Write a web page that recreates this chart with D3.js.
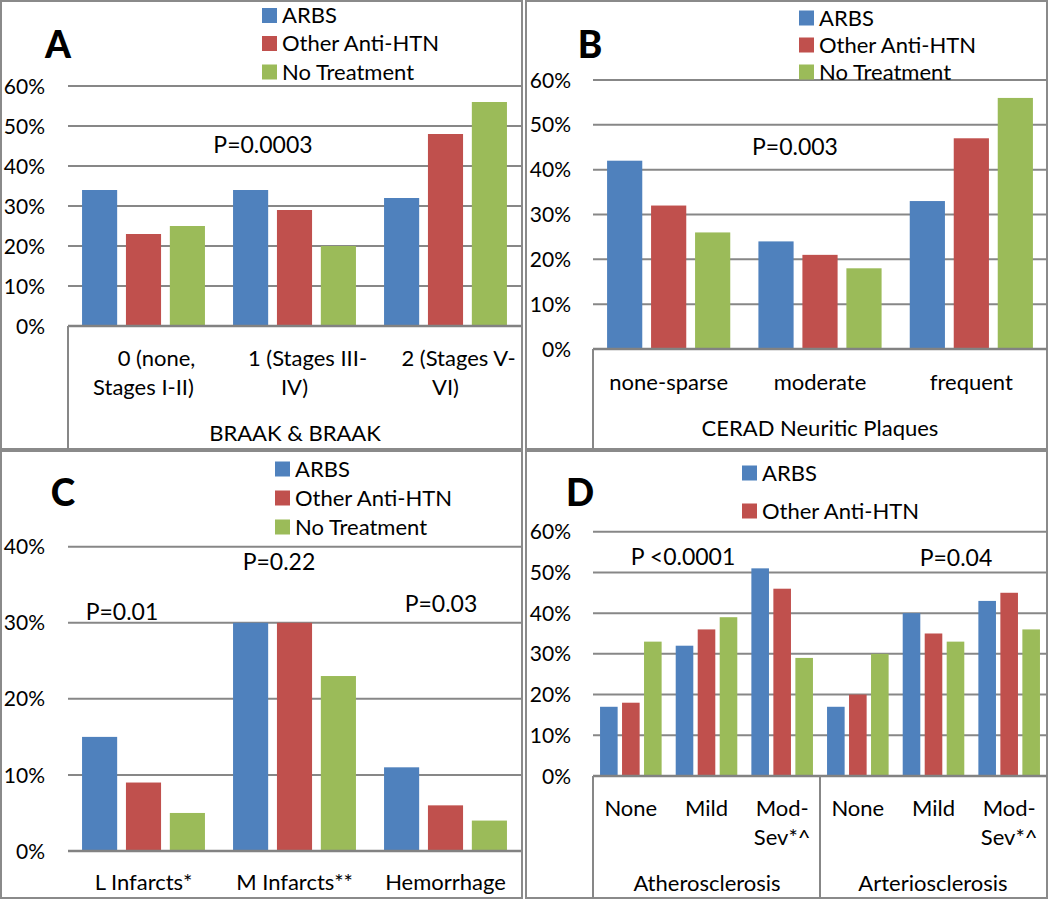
<!DOCTYPE html>
<html><head><meta charset="utf-8">
<script src="https://cdn.jsdelivr.net/npm/d3@7"></script>
<style>body{margin:0;background:#fff}svg{display:block}text{font-family:Lato,"Open Sans",sans-serif;fill:#000}</style>
</head><body>
<svg id="c" width="1050" height="900"></svg>
<script>
// ---------- data ----------
const seriesNames = ["ARBS", "Other Anti-HTN", "No Treatment"];
const seriesColors = ["#4F81BD", "#C0504D", "#9BBB59"];

const categoriesA = [["0 (none,", "Stages I-II)"], ["1 (Stages III-", "IV)"], ["2 (Stages V-", "VI)"]];
const arbsA  = [34, 34, 32];
const otherA = [23, 29, 48];
const noneA  = [25, 20, 56];

const categoriesB = [["none-sparse"], ["moderate"], ["frequent"]];
const arbsB  = [42, 24, 33];
const otherB = [32, 21, 47];
const noneB  = [26, 18, 56];

const categoriesC = [["L Infarcts*"], ["M Infarcts**"], ["Hemorrhage"]];
const arbsC  = [15, 30, 11];
const otherC = [9, 30, 6];
const noneC  = [5, 23, 4];

const categoriesD = [["None"], ["Mild"], ["Mod-", "Sev*^"], ["None"], ["Mild"], ["Mod-", "Sev*^"]];
const groupsD = ["Atherosclerosis", "Arteriosclerosis"];
const arbsD  = [17, 32, 51, 17, 40, 43];
const otherD = [18, 36, 46, 20, 35, 45];
const noneD  = [33, 39, 29, 30, 33, 36];

const ticks60 = [0, 10, 20, 30, 40, 50, 60];
const ticks40 = [0, 10, 20, 30, 40];

// ---------- drawing ----------
const svg = d3.select("#c");
const GRID = "#878787";
const FS = 22;

function frame(x0, y0, x1, y1) {
  svg.append("rect").attr("x", x0).attr("y", y0).attr("width", x1 - x0).attr("height", y1 - y0)
    .attr("fill", "none").attr("stroke", "#8a8a8a").attr("stroke-width", 2);
}

function panel(cfg) {
  const g = svg.append("g");
  const y = d3.scaleLinear().domain([0, cfg.max]).range([cfg.yZero, cfg.yTop]);
  const x = d3.scaleBand().domain(d3.range(cfg.cats.length)).range([cfg.left, cfg.right]);
  const xs = d3.scaleBand().domain(d3.range(3)).range([0, x.bandwidth()]).paddingInner(0.2).paddingOuter(0.32);

  // gridlines
  g.selectAll("line.grid").data(cfg.ticks.filter(t => t > 0)).join("line")
    .attr("x1", cfg.left).attr("x2", cfg.right)
    .attr("y1", d => y(d)).attr("y2", d => y(d))
    .attr("stroke", GRID).attr("stroke-width", 2);

  // y axis labels
  const ya = d3.axisLeft(y).tickValues(cfg.ticks).tickFormat(d => d + "%").tickSize(0).tickPadding(0);
  const yg = g.append("g").attr("transform", `translate(${cfg.labelX},0)`).call(ya);
  yg.select(".domain").remove();
  yg.selectAll("text").attr("font-size", 21).attr("font-family", "Lato").attr("fill", "#000").attr("dy", "0.34em");

  // bars
  cfg.values.forEach((vals, s) => {
    if (!vals) return;
    g.selectAll(null).data(vals).join("rect")
      .attr("x", (d, i) => x(i) + xs(s))
      .attr("width", xs.bandwidth())
      .attr("y", d => y(d))
      .attr("height", d => y(0) - y(d))
      .attr("fill", seriesColors[s]);
  });

  // axis line at zero
  g.append("line").attr("x1", cfg.left).attr("x2", cfg.right)
    .attr("y1", y(0)).attr("y2", y(0)).attr("stroke", "#828282").attr("stroke-width", 2.5);

  // category box lines
  (cfg.boxLines || []).forEach(i => {
    const xx = i === 0 ? cfg.left : x(i);
    g.append("line").attr("x1", xx).attr("x2", xx).attr("y1", y(0)).attr("y2", cfg.boxBottom)
      .attr("stroke", GRID).attr("stroke-width", 2);
  });

  // category labels
  cfg.cats.forEach((lines, i) => {
    lines.forEach((ln, k) => {
      const dx = (lines.length > 1 && k === 0) ? (cfg.firstDx || 0) : 0;
      g.append("text").attr("x", x(i) + x.bandwidth() / 2 + dx).attr("y", cfg.catY + k * cfg.lineH)
        .attr("dy", "0.35em").attr("text-anchor", "middle").attr("font-size", FS).text(ln);
    });
  });

  // group titles
  (cfg.groups || []).forEach(gr => {
    g.append("text").attr("x", gr.x).attr("y", gr.y).attr("dy", "0.35em")
      .attr("text-anchor", "middle").attr("font-size", FS).text(gr.text);
  });

  // legend
  cfg.legend.forEach((s, k) => {
    const ly = cfg.legendY[k];
    g.append("rect").attr("x", cfg.legendX).attr("y", ly - 7.5).attr("width", 15).attr("height", 15)
      .attr("fill", seriesColors[s]);
    g.append("text").attr("x", cfg.legendX + 20).attr("y", ly).attr("dy", "0.36em")
      .attr("font-size", FS).text(seriesNames[s]);
  });

  // panel letter
  g.append("text").attr("x", cfg.letter[1]).attr("y", cfg.letter[2]).attr("dy", "0.36em")
    .attr("text-anchor", "middle").attr("font-size", 37).attr("font-weight", 900)
    .attr("font-family", "Lato").text(cfg.letter[0]);

  // p-values
  cfg.pvals.forEach(p => {
    g.append("text").attr("x", p[1]).attr("y", p[2]).attr("dy", "0.36em")
      .attr("text-anchor", "middle").attr("font-size", 23).text(p[0]);
  });
}

// frames
frame(1, 1, 522, 449);
frame(526, 1, 1047, 449);
frame(1, 451, 522, 898);
frame(526, 451, 1047, 898);

panel({
  cats: categoriesA, values: [arbsA, otherA, noneA], max: 60, ticks: ticks60,
  left: 68, right: 521, yTop: 86, yZero: 326, labelX: 45,
  boxLines: [0], boxBottom: 449, catY: 358, lineH: 29, firstDx: 13,
  groups: [{text: "BRAAK & BRAAK", x: 295, y: 433}],
  legend: [0, 1, 2], legendX: 262, legendY: [15.5, 43.5, 72],
  letter: ["A", 58, 45], pvals: [["P=0.0003", 263, 145]]
});

panel({
  cats: categoriesB, values: [arbsB, otherB, noneB], max: 60, ticks: ticks60,
  left: 593, right: 1047, yTop: 80, yZero: 349, labelX: 571,
  boxLines: [0], boxBottom: 449, catY: 382, lineH: 29,
  groups: [{text: "CERAD Neuritic Plaques", x: 820, y: 428}],
  legend: [0, 1, 2], legendX: 799, legendY: [18, 45, 72],
  letter: ["B", 590, 45], pvals: [["P=0.003", 795, 147]]
});

panel({
  cats: categoriesC, values: [arbsC, otherC, noneC], max: 40, ticks: ticks40,
  left: 68, right: 521, yTop: 546.7, yZero: 851, labelX: 45,
  boxLines: [], boxBottom: 898, catY: 882, lineH: 29,
  groups: [],
  legend: [0, 1, 2], legendX: 275, legendY: [469, 498, 527],
  letter: ["C", 63, 493],
  pvals: [["P=0.01", 122, 612], ["P=0.22", 279, 562], ["P=0.03", 441, 604]]
});

panel({
  cats: categoriesD, values: [arbsD, otherD, noneD], max: 60, ticks: ticks60,
  left: 593, right: 1047, yTop: 531.7, yZero: 776, labelX: 571,
  boxLines: [0, 3], boxBottom: 898, catY: 808, lineH: 29,
  groups: [{text: groupsD[0], x: 707, y: 883}, {text: groupsD[1], x: 933, y: 883}],
  legend: [0, 1], legendX: 742, legendY: [473, 511],
  letter: ["D", 580, 493],
  pvals: [["P <0.0001", 683, 557], ["P=0.04", 956, 558]]
});
</script>
</body></html>
